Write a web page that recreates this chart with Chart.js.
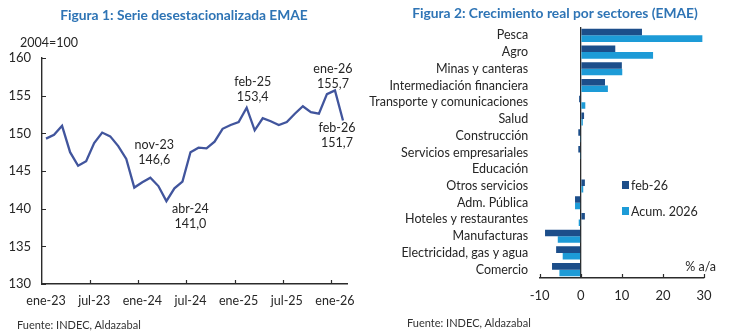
<!DOCTYPE html>
<html lang="es">
<head>
<meta charset="utf-8">
<title>EMAE</title>
<script src="https://cdn.jsdelivr.net/npm/chart.js@4.4.1/dist/chart.umd.min.js"></script>
<style>
    html, body {
        margin: 0;
        padding: 0;
        background: #ffffff;
    }

    body {
        position: relative;
        width: 730px;
        height: 336px;
        overflow: hidden;
        font-family: Lato, "Open Sans", sans-serif;
        color: #262626;
    }

    .panel {
        position: absolute;
        top: 0;
        width: 365px;
        height: 336px;
    }

    #panelSeries { left: 0; }
    #panelSectors { left: 365px; }

    .panel canvas {
        position: absolute;
        left: 0;
        top: 0;
    }

    .title {
        position: absolute;
        white-space: nowrap;
        font-weight: 700;
        font-size: 13.8px;
        line-height: 16px;
        color: #2e74b5;
        transform: translateX(-50%);
    }

    .note {
        position: absolute;
        white-space: nowrap;
        font-size: 12.5px;
        line-height: 15px;
    }

    .source {
        position: absolute;
        white-space: nowrap;
        font-size: 11px;
        line-height: 13px;
        color: #333333;
    }
</style>
</head>
<body>

<div class="panel" id="panelSeries">
    <canvas id="seriesChart" width="365" height="336"></canvas>
    <div class="title" style="left: 184px; top: 7px;">Figura 1: Serie desestacionalizada EMAE</div>
    <div class="note" style="left: 20px; top: 35px;">2004=100</div>
    <div class="source" style="left: 17px; top: 318px;">Fuente: INDEC, Aldazabal</div>
</div>

<div class="panel" id="panelSectors">
    <canvas id="sectorsChart" width="365" height="336"></canvas>
    <div class="title" style="left: 190px; top: 5px;">Figura 2: Crecimiento real por sectores (EMAE)</div>
    <div class="note" style="right: 14px; top: 259px;">% a/a</div>
    <div class="source" style="left: 42px; top: 316px;">Fuente: INDEC, Aldazabal</div>
</div>

<script>
"use strict";

// Serie desestacionalizada, índice 2004=100
const monthLabels = [
    "ene-23", "feb-23", "mar-23", "abr-23", "may-23", "jun-23",
    "jul-23", "ago-23", "sep-23", "oct-23", "nov-23", "dic-23",
    "ene-24", "feb-24", "mar-24", "abr-24", "may-24", "jun-24",
    "jul-24", "ago-24", "sep-24", "oct-24", "nov-24", "dic-24",
    "ene-25", "feb-25", "mar-25", "abr-25", "may-25", "jun-25",
    "jul-25", "ago-25", "sep-25", "oct-25", "nov-25", "dic-25",
    "ene-26", "feb-26"
];

const emaeValues = [
    149.3, 149.8, 151.0, 147.5, 145.7, 146.3,
    148.7, 150.1, 149.6, 148.3, 146.6, 142.8,
    143.5, 144.1, 143.0, 141.0, 142.7, 143.6,
    147.5, 148.1, 148.0, 148.9, 150.6, 151.1,
    151.5, 153.4, 150.4, 152.0, 151.6, 151.1,
    151.5, 152.6, 153.6, 152.8, 152.6, 155.2,
    155.7, 151.7
];

const annotatedMonths = [
    "nov-23",
    "abr-24",
    "feb-25",
    "ene-26",
    "feb-26"
];

// Crecimiento por sector, % a/a
const sectorLabels = [
    "Pesca",
    "Agro",
    "Minas y canteras",
    "Intermediación financiera",
    "Transporte y comunicaciones",
    "Salud",
    "Construcción",
    "Servicios empresariales",
    "Educación",
    "Otros servicios",
    "Adm. Pública",
    "Hoteles y restaurantes",
    "Manufacturas",
    "Electricidad, gas y agua",
    "Comercio"
];

const febValues = [
    14.9, 8.4, 10.0, 5.9, -0.4, 0.8, -0.6, -0.6,
    0.0, 1.0, -1.4, 1.0, -8.7, -6.0, -7.0
];

const acumValues = [
    29.6, 17.6, 10.1, 6.6, 1.1, 0.5, -0.1, -0.1,
    0.0, 0.6, -1.4, -0.5, -5.6, -4.4, -5.2
];

const seriesNames = [
    "feb-26",
    "Acum. 2026"
];

const TEXT_COLOR = "#262626";
const AXIS_COLOR = "#2b2b2b";
const LINE_COLOR = "#41559d";
const DARK_BAR = "#1c4e8a";
const LIGHT_BAR = "#1d9bd7";

Chart.defaults.font.family = "Lato, 'Open Sans', sans-serif";
Chart.defaults.font.size = 12.5;
Chart.defaults.color = TEXT_COLOR;

// label placement (dx, dy of first line) around each annotated point
const annotationOffsets = {
    "nov-23": [28, -13.5],
    "abr-24": [24, 8],
    "feb-25": [6, -25.5],
    "ene-26": [-2, -21.5],
    "feb-26": [-6, 7]
};

const formatValue =
    value =>
        value.toFixed(1).replace(".", ",");

// short tick marks drawn inward from the axes
const innerTicksPlugin = {

    id: "innerTicks",

    afterDraw(chart, args, opts) {

        const { ctx, chartArea } = chart;
        const size = opts.size || 4;

        ctx.save();
        ctx.strokeStyle = AXIS_COLOR;
        ctx.lineWidth = 1.2;
        ctx.beginPath();

        if (opts.xCategoryStep) {

            const xScale = chart.scales.x;
            const half =
                (xScale.getPixelForValue(1) - xScale.getPixelForValue(0)) / 2;

            for (let i = opts.xCategoryStep; i < monthLabels.length; i += opts.xCategoryStep) {

                const px = Math.round(xScale.getPixelForValue(i) - half) + 0.5;

                ctx.moveTo(px, chartArea.bottom);
                ctx.lineTo(px, chartArea.bottom - size);
            }
        }

        if (opts.xValues) {

            chart.scales.x.ticks.forEach(tick => {

                const px = Math.round(chart.scales.x.getPixelForValue(tick.value)) + 0.5;

                ctx.moveTo(px, chartArea.bottom);
                ctx.lineTo(px, chartArea.bottom - size);
            });
        }

        if (opts.yValues) {

            chart.scales.y.ticks.forEach(tick => {

                const py = Math.round(chart.scales.y.getPixelForValue(tick.value)) + 0.5;

                ctx.moveTo(chartArea.left, py);
                ctx.lineTo(chartArea.left + size, py);
            });
        }

        ctx.stroke();
        ctx.restore();
    }
};

// two-line month / value labels next to the highlighted points
const pointLabelsPlugin = {

    id: "pointLabels",

    afterDatasetsDraw(chart) {

        const { ctx } = chart;
        const xScale = chart.scales.x;
        const yScale = chart.scales.y;

        ctx.save();
        ctx.fillStyle = TEXT_COLOR;
        ctx.font = "12.5px Lato, 'Open Sans', sans-serif";
        ctx.textAlign = "center";
        ctx.textBaseline = "middle";

        annotatedMonths.forEach(month => {

            const index = monthLabels.indexOf(month);
            const value = emaeValues[index];
            const offset = annotationOffsets[month];

            const px = xScale.getPixelForValue(index) + offset[0];
            const py = yScale.getPixelForValue(value) + offset[1];

            ctx.fillText(month, px, py);
            ctx.fillText(formatValue(value), px, py + 15);
        });

        ctx.restore();
    }
};

// legend placed inside the plot, square markers
const boxLegendPlugin = {

    id: "boxLegend",

    afterDraw(chart, args, opts) {

        const { ctx } = chart;

        ctx.save();
        ctx.font = "12.5px Lato, 'Open Sans', sans-serif";
        ctx.textBaseline = "middle";
        ctx.textAlign = "left";

        chart.data.datasets.forEach((dataset, i) => {

            const y = opts.y + i * opts.gap;

            ctx.fillStyle = dataset.backgroundColor;
            ctx.fillRect(opts.x, y - 4, 7, 8);

            ctx.fillStyle = TEXT_COLOR;
            ctx.fillText(dataset.label, opts.x + 9, y + 0.5);
        });

        ctx.restore();
    }
};

const EmaeCharts = {

    initialize() {

        this.renderSeries();
        this.renderSectors();
    },

    renderSeries() {

        const canvas = document.getElementById("seriesChart");

        new Chart(canvas, {

            type: "line",

            data: {
                labels: monthLabels,
                datasets: [
                    {
                        label: "EMAE",
                        data: emaeValues,
                        borderColor: LINE_COLOR,
                        borderWidth: 2.3,
                        pointRadius: 0,
                        tension: 0,
                        fill: false
                    }
                ]
            },

            options: {
                responsive: false,
                animation: false,
                layout: {
                    padding: { top: 58, right: 18, bottom: 0, left: 0 }
                },
                plugins: {
                    legend: { display: false },
                    tooltip: { enabled: false },
                    innerTicks: { xCategoryStep: 6, yValues: true, size: 4 }
                },
                scales: {
                    x: {
                        type: "category",
                        offset: true,
                        grid: { display: false, drawTicks: false },
                        border: { display: true, color: AXIS_COLOR, width: 1.4 },
                        ticks: {
                            autoSkip: false,
                            maxRotation: 0,
                            padding: 9,
                            callback(value, index) {
                                return index % 6 === 0
                                    ? this.getLabelForValue(value)
                                    : null;
                            }
                        },
                        afterFit(scale) {
                            scale.height = 336 - 284;
                        }
                    },
                    y: {
                        min: 130,
                        max: 160,
                        grid: { display: false, drawTicks: false },
                        border: { display: true, color: AXIS_COLOR, width: 1.4 },
                        ticks: { stepSize: 5, padding: 11, font: { size: 13 } },
                        afterFit(scale) {
                            scale.width = 42;
                        }
                    }
                }
            },

            plugins: [innerTicksPlugin, pointLabelsPlugin]
        });
    },

    renderSectors() {

        const canvas = document.getElementById("sectorsChart");

        new Chart(canvas, {

            type: "bar",

            data: {
                labels: sectorLabels,
                datasets: [
                    {
                        label: seriesNames[0],
                        data: febValues,
                        backgroundColor: DARK_BAR,
                        borderWidth: 0,
                        categoryPercentage: 0.78,
                        barPercentage: 1.0
                    },
                    {
                        label: seriesNames[1],
                        data: acumValues,
                        backgroundColor: LIGHT_BAR,
                        borderWidth: 0,
                        categoryPercentage: 0.78,
                        barPercentage: 1.0
                    }
                ]
            },

            options: {
                indexAxis: "y",
                responsive: false,
                animation: false,
                layout: {
                    padding: { top: 27, right: 26, bottom: 0, left: 0 }
                },
                plugins: {
                    legend: { display: false },
                    tooltip: { enabled: false },
                    innerTicks: { xValues: true, size: 4 },
                    boxLegend: { x: 257, y: 185, gap: 26 }
                },
                scales: {
                    x: {
                        min: -10,
                        max: 30,
                        grid: {
                            drawTicks: false,
                            lineWidth: 1.3,
                            color: ctx =>
                                ctx.tick && ctx.tick.value === 0
                                    ? AXIS_COLOR
                                    : "rgba(0,0,0,0)"
                        },
                        border: { display: true, color: AXIS_COLOR, width: 1.4 },
                        ticks: { stepSize: 10, padding: 10, font: { size: 13 } },
                        afterFit(scale) {
                            scale.height = 336 - 278;
                        }
                    },
                    y: {
                        grid: { display: false, drawTicks: false },
                        border: { display: false },
                        ticks: { autoSkip: false, padding: 11.5 },
                        afterFit(scale) {
                            scale.width = 174.7;
                        }
                    }
                }
            },

            plugins: [innerTicksPlugin, boxLegendPlugin]
        });
    }
};

document.addEventListener("DOMContentLoaded", () => {

    try {
        EmaeCharts.initialize();
    } catch (error) {
        console.error("Chart initialization failed", error);
    }
});
</script>
</body>
</html>
